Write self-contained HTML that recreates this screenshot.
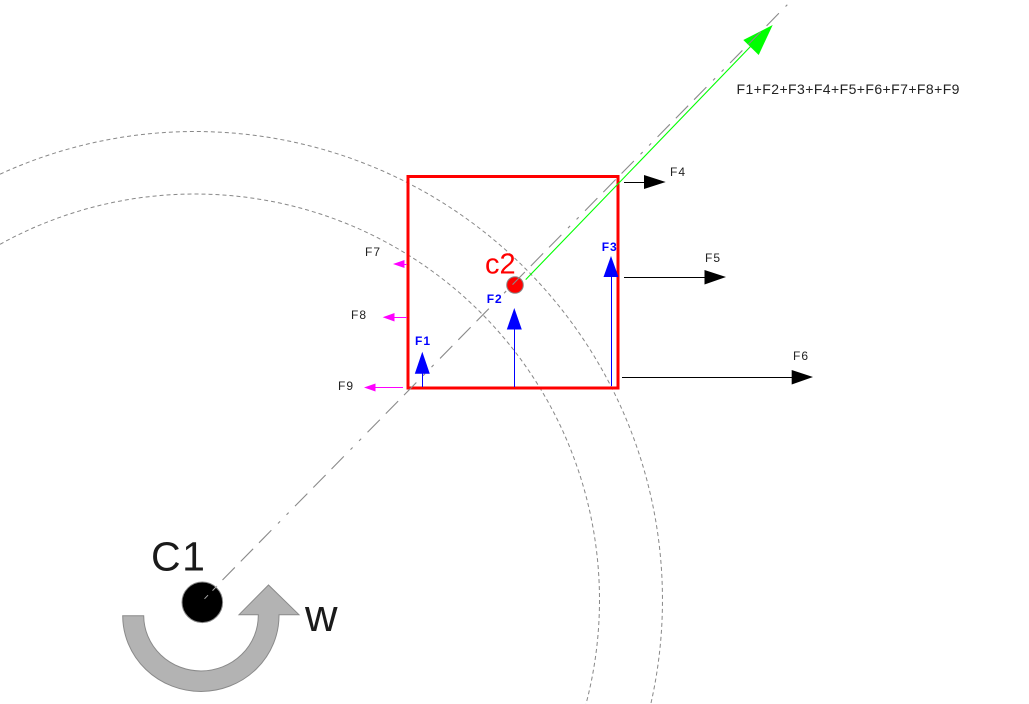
<!DOCTYPE html>
<html>
<head>
<meta charset="utf-8">
<style>
html,body{margin:0;padding:0;background:#fff;width:1029px;height:704px;overflow:hidden}
svg{display:block}
text{font-family:"Liberation Sans",sans-serif}
.s{font-size:12px;letter-spacing:1px;fill:#222}
.b{font-size:12px;letter-spacing:1px;font-weight:bold;fill:#0000ff}
</style>
</head>
<body>
<svg width="1029" height="704" viewBox="0 0 1029 704" xmlns="http://www.w3.org/2000/svg">
<!-- orbits -->
<path d="M0 174.2 A467.5 468.5 0 0 1 650.8 704" fill="none" stroke="#888" stroke-width="1" stroke-dasharray="4 3"/>
<path d="M0 244.3 A404.5 406 0 0 1 586 704" fill="none" stroke="#888" stroke-width="1" stroke-dasharray="4 3"/>
<!-- C1 -->
<circle cx="202.3" cy="602.3" r="20.3" fill="#000" stroke="#888" stroke-width="1"/>
<!-- rotation arrow -->
<path d="M122.7 615.7 A78.15 76 0 0 0 279 615.2 L279 614.7 L299 614.7 L268.5 585 L239 614.7 L258.3 614.7 L258.3 615.2 A57.3 55.5 0 0 1 143.7 615.7 Z" fill="#b3b3b3" stroke="#8a8a8a" stroke-width="1"/>
<!-- square -->
<rect x="408" y="176.5" width="210" height="211.5" fill="none" stroke="#ff0000" stroke-width="3"/>
<!-- green resultant -->
<line x1="525.7" y1="279.6" x2="751" y2="46" stroke="#00ff00" stroke-width="1.1"/>
<polygon points="772.7,25 743.3,40 758.7,55" fill="#00ff00"/>
<!-- c2 -->
<circle cx="515" cy="285" r="8.3" fill="#ff0000" stroke="#888" stroke-width="1"/>
<!-- axis -->
<line x1="204.5" y1="598.8" x2="208" y2="595.2" stroke="#aaa" stroke-width="1"/>
<line x1="212.5" y1="590.6" x2="217" y2="586" stroke="#aaa" stroke-width="1"/>
<line x1="222.5" y1="580" x2="787.3" y2="4.7" stroke="#8a8a8a" stroke-width="1.1" stroke-dasharray="17.6 8.5 17.6 8.4 17.6 9.5 3 9.2 3 9.1"/>
<!-- blue arrows -->
<g stroke="#0000ff" stroke-width="1" fill="#0000ff">
<line x1="422.5" y1="387" x2="422.5" y2="373"/>
<line x1="514.5" y1="387" x2="514.5" y2="329"/>
<line x1="611.5" y1="386" x2="611.5" y2="276"/>
</g>
<g fill="#0000ff">
<polygon points="422.3,351.7 414.8,373.7 429.8,373.7"/>
<polygon points="514.3,308 506.8,329.5 521.8,329.5"/>
<polygon points="611,256 603.5,277 618.5,277"/>
</g>
<!-- black arrows -->
<g stroke="#000" stroke-width="1">
<line x1="624" y1="182.5" x2="645" y2="182.5"/>
<line x1="624" y1="277.5" x2="705" y2="277.5"/>
<line x1="622" y1="377.5" x2="792" y2="377.5"/>
</g>
<g fill="#000">
<polygon points="644,175 665.7,182 644,189"/>
<polygon points="704.5,270 726,277 704.5,284.5"/>
<polygon points="791.7,370 813,377 791.7,384.5"/>
</g>
<!-- magenta arrows -->
<g stroke="#ff00ff" stroke-width="1">
<line x1="403" y1="264.5" x2="407" y2="264.5"/>
<line x1="394" y1="317.5" x2="407" y2="317.5"/>
<line x1="375" y1="387.5" x2="403" y2="387.5"/>
</g>
<g fill="#ff00ff">
<polygon points="393,264 404.5,260 404.5,268"/>
<polygon points="382.7,317.3 394.5,313 394.5,321.5"/>
<polygon points="364,387.5 375.5,383.5 375.5,391.5"/>
</g>
<!-- labels -->
<text x="151" y="570.5" font-size="41" letter-spacing="1.5" fill="#1a1a1a">C1</text>
<text x="305" y="631" font-size="45" fill="#1a1a1a">w</text>
<text x="485" y="273.5" font-size="29" fill="#ff0000">c2</text>
<text x="415" y="345" class="b">F1</text>
<text x="486.7" y="303" class="b">F2</text>
<text x="601.7" y="251" class="b">F3</text>
<text x="670" y="176" class="s">F4</text>
<text x="705" y="262" class="s">F5</text>
<text x="793" y="360" class="s">F6</text>
<text x="365" y="256" class="s">F7</text>
<text x="351" y="319" class="s">F8</text>
<text x="338" y="390" class="s">F9</text>
<text x="736.5" y="94" font-size="14" letter-spacing="0.42" fill="#222">F1+F2+F3+F4+F5+F6+F7+F8+F9</text>
</svg>
</body>
</html>
